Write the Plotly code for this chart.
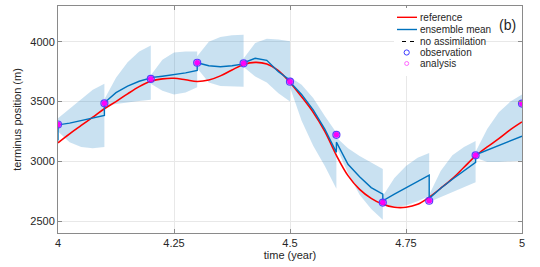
import plotly.graph_objects as go

# ---------------- data ----------------
ref_t = [4.0 + 0.025 * i for i in range(41)]
ref_val = [3155, 3230, 3300, 3370, 3440, 3500, 3565, 3625, 3670, 3690,
           3695, 3682, 3668, 3680, 3715, 3765, 3810, 3828, 3815, 3760,
           3660, 3540, 3410, 3250, 3050, 2880, 2765, 2690, 2640, 2615,
           2615, 2640, 2700, 2775, 2855, 2950, 3045, 3120, 3190, 3265, 3330]

mean_t = [4.0, 4.0, 4.025, 4.05, 4.075, 4.1, 4.1, 4.125, 4.15, 4.175, 4.2, 4.2,
          4.225, 4.25, 4.275, 4.3, 4.3, 4.325, 4.35, 4.375, 4.4, 4.4,
          4.425, 4.45, 4.475, 4.5, 4.5, 4.525, 4.55, 4.575, 4.6, 4.6,
          4.625, 4.65, 4.675, 4.7, 4.7, 4.725, 4.75, 4.775, 4.8, 4.8,
          4.825, 4.85, 4.875, 4.9, 4.9, 4.925, 4.95, 4.975, 5.0]
mean_val = [3175, 3305, 3320, 3340, 3360, 3385, 3490, 3575, 3630, 3670, 3698, 3700,
            3712, 3725, 3740, 3760, 3825, 3800, 3792, 3800, 3815, 3825,
            3862, 3845, 3750, 3680, 3665, 3560, 3430, 3270, 3075, 3160,
            2975, 2870, 2780, 2725, 2670, 2725, 2780, 2835, 2885, 2690,
            2775, 2850, 2920, 2992, 3055, 3095, 3135, 3172, 3210]

band_t = [4.0, 4.025, 4.05, 4.075, 4.1,
          4.1, 4.125, 4.15, 4.175, 4.2,
          4.2, 4.225, 4.25, 4.275, 4.3,
          4.3, 4.325, 4.35, 4.375, 4.4,
          4.4, 4.425, 4.45, 4.475, 4.5,
          4.5, 4.525, 4.55, 4.575, 4.6,
          4.6, 4.625, 4.65, 4.675, 4.7,
          4.7, 4.725, 4.75, 4.775, 4.8,
          4.8, 4.825, 4.85, 4.875, 4.9,
          4.9, 4.925, 4.95, 4.975, 5.0]
band_hi = [3360, 3440, 3520, 3600, 3650,
           3520, 3700, 3830, 3920, 3970,
           3720, 3850, 3910, 3920, 3920,
           3880, 4000, 4040, 4055, 4060,
           3860, 3990, 4025, 4020, 4005,
           3705, 3640, 3530, 3380, 3240,
           3200, 3110, 3045, 2990, 2935,
           2710, 2860, 2960, 3030, 3070,
           2720, 2920, 3050, 3120, 3170,
           3080, 3270, 3410, 3500, 3560]
band_lo = [3250, 3160, 3120, 3110, 3120,
           3460, 3480, 3495, 3505, 3515,
           3650, 3590, 3560, 3575, 3620,
           3780, 3660, 3630, 3625, 3625,
           3790, 3710, 3660, 3570, 3500,
           3620, 3340, 3130, 2960, 2770,
           3120, 2900, 2720, 2600, 2510,
           2635, 2620, 2630, 2665, 2710,
           2660, 2700, 2740, 2780, 2825,
           3030, 2995, 2995, 3000, 3005]

obs_t = [4.0, 4.1, 4.2, 4.3, 4.4, 4.5, 4.6, 4.7, 4.8, 4.9, 5.0]
obs_val = [3308, 3485, 3690, 3825, 3820, 3667, 3222, 2655, 2670, 3050, 3483]
ana_val = [3308, 3485, 3690, 3825, 3820, 3667, 3222, 2655, 2670, 3050, 3483]

x_ticks = [4, 4.25, 4.5, 4.75, 5]
x_tick_labels = ["4", "4.25", "4.5", "4.75", "5"]
y_ticks = [2500, 3000, 3500, 4000]

legend_labels = ["reference", "ensemble mean", "no assimilation", "observation", "analysis"]

# ---------------- figure ----------------
BLUE = "#0072BD"
RED = "#FF0000"
FONT = "Liberation Sans, Arial, sans-serif"

fig = go.Figure()
fig.add_trace(go.Scatter(x=band_t, y=band_lo, mode="lines", line=dict(width=0),
                         hoverinfo="skip", showlegend=False))
fig.add_trace(go.Scatter(x=band_t, y=band_hi, mode="lines", line=dict(width=0),
                         fill="tonexty", fillcolor="rgba(0,114,189,0.21)",
                         hoverinfo="skip", showlegend=False))
fig.add_trace(go.Scatter(x=ref_t, y=ref_val, mode="lines", line=dict(color=RED, width=1.6),
                         line_shape="spline", showlegend=False))
fig.add_trace(go.Scatter(x=mean_t, y=mean_val, mode="lines", line=dict(color=BLUE, width=1.4),
                         showlegend=False))
fig.add_trace(go.Scatter(x=obs_t, y=obs_val, mode="markers",
                         marker=dict(symbol="circle-open", size=7, color="#5a3bff",
                                     line=dict(width=1.2, color="#5a3bff")),
                         showlegend=False))
fig.add_trace(go.Scatter(x=obs_t, y=ana_val, mode="markers",
                         marker=dict(symbol="circle", size=5, color="#ff00ff",
                                     line=dict(width=0.8, color="#ee00ee")),
                         showlegend=False))

axis_common = dict(showline=True, linecolor="#8a8a8a", linewidth=1, mirror="ticks",
                   ticks="inside", ticklen=4, tickcolor="#8a8a8a", automargin=False,
                   showgrid=True, gridcolor="#e8e8e8", gridwidth=1, zeroline=False,
                   tickfont=dict(family=FONT, size=11, color="#262626"))

fig.update_layout(
    width=540, height=267,
    margin=dict(l=58, r=18, t=6, b=34),
    paper_bgcolor="white", plot_bgcolor="white",
    showlegend=False,
    xaxis=dict(range=[4, 5], tickvals=x_ticks, ticktext=x_tick_labels,
               title=dict(text="time (year)", font=dict(family=FONT, size=11, color="#262626"),
                          standoff=2),
               **axis_common),
    yaxis=dict(range=[2400, 4300], tickvals=y_ticks,
               title=dict(text="terminus position (m)", font=dict(family=FONT, size=11, color="#262626"),
                          standoff=6),
               **axis_common),
)

# ---------------- manual legend ----------------
def px(xp):
    return (xp - 58) / 464.0

def py(yp):
    return (233 - yp) / 227.0

shapes = [dict(type="rect", xref="paper", yref="paper", x0=px(394), x1=px(484),
               y0=py(76), y1=py(8), fillcolor="white", line=dict(width=0), layer="above")]
rows = [17.3, 29.5, 41.5, 52.5, 63.5]
shapes.append(dict(type="line", xref="paper", yref="paper", x0=px(397), x1=px(417),
                   y0=py(rows[0]), y1=py(rows[0]), line=dict(color=RED, width=1.4), layer="above"))
shapes.append(dict(type="line", xref="paper", yref="paper", x0=px(397), x1=px(417),
                   y0=py(rows[1]), y1=py(rows[1]), line=dict(color=BLUE, width=1.4), layer="above"))
shapes.append(dict(type="line", xref="paper", yref="paper", x0=px(402), x1=px(414),
                   y0=py(rows[2]), y1=py(rows[2]), line=dict(color="black", width=1.2, dash="4px,4px"),
                   layer="above"))
for r, col, rad in [(rows[3], "#3b3bff", 2.6), (rows[4], "#ff66ff", 2.0)]:
    shapes.append(dict(type="circle", xref="paper", yref="paper",
                       x0=px(406.7 - rad), x1=px(406.7 + rad), y0=py(r + rad), y1=py(r - rad),
                       line=dict(color=col, width=1), layer="above"))
annotations = []
for r, lab in zip(rows, legend_labels):
    annotations.append(dict(xref="paper", yref="paper", x=px(417.5), y=py(r), text=lab,
                            showarrow=False, xanchor="left", yanchor="middle",
                            font=dict(family=FONT, size=10, color="#262626")))
annotations.append(dict(xref="paper", yref="paper", x=px(507), y=py(25), text="(b)",
                        showarrow=False, xanchor="center", yanchor="middle",
                        font=dict(family=FONT, size=14, color="#262626")))
fig.update_layout(shapes=shapes, annotations=annotations)

fig.write_html("out.html", config={"displayModeBar": False},
               post_script="document.body.style.margin='0px';document.body.style.overflow='hidden';")
